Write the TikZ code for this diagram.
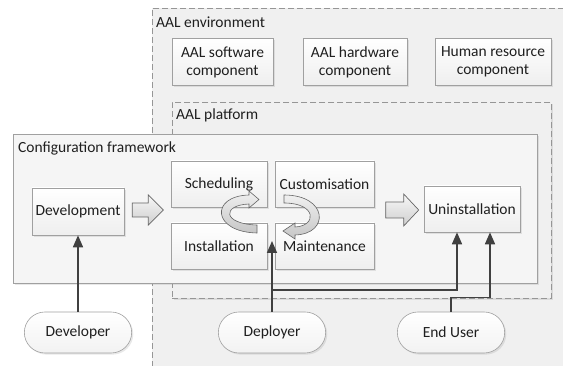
\documentclass[tikz,border=0pt]{standalone}
\usepackage{fontspec}
\setmainfont{Carlito}
\usetikzlibrary{shapes.misc,shadows,arrows.meta,calc}

\definecolor{envfill}{RGB}{240,240,240}
\definecolor{cfgfill}{RGB}{245,245,245}
\definecolor{frameline}{RGB}{150,150,150}
\definecolor{boxline}{RGB}{160,160,160}
\definecolor{wire}{RGB}{64,64,64}

\tikzset{
  txt/.style={text=black!88, font=\fontsize{15.5}{18}\selectfont},
  boxshadow/.style={drop shadow={opacity=0.18, shadow xshift=1.6pt, shadow yshift=-1.6pt}},
  dashframe/.style={draw=frameline, line width=0.6pt, dash pattern=on 6pt off 3pt,
    fill=envfill, anchor=north west, inner sep=0pt},
  compbox/.style={txt, draw=boxline, line width=0.6pt, top color=white, bottom color=gray!13,
    minimum height=47pt, align=center, inner sep=1pt, boxshadow},
  stagebox/.style={compbox, minimum height=46pt},
  actor/.style={txt, rounded rectangle, draw=boxline, line width=0.6pt, top color=white,
    bottom color=gray!10, minimum width=114pt, minimum height=41pt, boxshadow},
  wirearrow/.style={draw=wire, line width=1.6pt, -{Triangle[length=12pt,width=10pt]}},
  fatarrow/.style={draw=black!60, line width=0.7pt, top color=gray!6, bottom color=gray!38},
  turnarrow/.style={draw=black!60, line width=0.6pt, top color=gray!12, bottom color=gray!45},
}

\begin{document}
\begin{tikzpicture}[x=1pt,y=-1pt]
\useasboundingbox (0,0) rectangle (563,366);
\clip (0,0) rectangle (563,366);

% AAL environment frame (runs off the right and bottom edges)
\node[dashframe, minimum width=430pt, minimum height=380pt] (env) at (152,8) {};
\node[txt, anchor=west, inner sep=0pt] (envlabel) at (156,22) {AAL environment};

% environment components
\node[compbox, minimum width=101pt] (sw) at (222.5,62) {AAL software\\component};
\node[compbox, minimum width=104pt] (hw) at (355,62) {AAL hardware\\component};
\node[compbox, minimum width=116pt] (hr) at (493,62) {Human resource\\component};

% AAL platform frame
\node[dashframe, minimum width=379pt, minimum height=196pt, boxshadow] (platform) at (172,102) {};
\node[txt, anchor=west, inner sep=0pt] (platlabel) at (176,115) {AAL platform};

% configuration framework
\node[draw=boxline, line width=0.6pt, fill=cfgfill, anchor=north west, inner sep=0pt,
      minimum width=524pt, minimum height=149pt, boxshadow] (cfg) at (13,134) {};
\node[txt, anchor=west, inner sep=0pt] (cfglabel) at (18,148) {Configuration framework};

% life-cycle stages
\node[stagebox, minimum width=92pt, minimum height=47pt] (dev) at (78,211.5) {Development};
\node[stagebox, minimum width=96pt] (sched) at (219,184) {Scheduling};
\node[stagebox, minimum width=96pt] (inst) at (219,246) {Installation};
\node[stagebox, minimum width=99pt] (cust) at (324.5,184) {Customisation};
\node[stagebox, minimum width=99pt] (maint) at (324.5,246) {Maintenance};
\node[stagebox, minimum width=96pt] (uninst) at (472,209) {Uninstallation};

% block arrows between stages
\path[fatarrow] ($(dev.east)+(8,-8.5)$) -- ++(16,0) -- ++(0,-8) -- ++(15,15) -- ++(-15,15)
  -- ++(0,-8) -- ++(-16,0) -- cycle;
\path[fatarrow] ($(uninst.west)+(-38,-7)$) -- ++(18,0) -- ++(0,-8) -- ++(15,16) -- ++(-15,16)
  -- ++(0,-8) -- ++(-18,0) -- cycle;

% turning arrows: installation -> scheduling, customisation -> maintenance
\path[turnarrow] (257,225) -- (257,233) .. controls (212,232) and (210,196) .. (249,195)
  -- (249,191) -- (259,199.5) -- (249,208) -- (249,204)
  .. controls (222,205) and (222,224) .. (257,225) -- cycle;
\path[turnarrow] (284,195) .. controls (328,195) and (330,234) .. (295,235)
  -- (295,239) -- (283,231) -- (295,223) -- (295,227)
  .. controls (317,226) and (317,203) .. (284,203) -- cycle;

% actors
\node[actor] (developer) at (78,332.5) {Developer};
\node[actor] (deployer) at (272,332.5) {Deployer};
\node[actor] (enduser) at (451,332.5) {End User};

% actor links
\coordinate (deptip) at (272,241);
\coordinate (depjoin) at (272,290);
\draw[wirearrow] (developer.north) -- (dev.south);
\draw[wirearrow] (deployer.north) -- (deptip);
\draw[wirearrow] (depjoin) -| ([xshift=-15pt]uninst.south);
\draw[wirearrow] (enduser.north) -- ++(0,-14) -| ([xshift=18pt]uninst.south);
\end{tikzpicture}
\end{document}
